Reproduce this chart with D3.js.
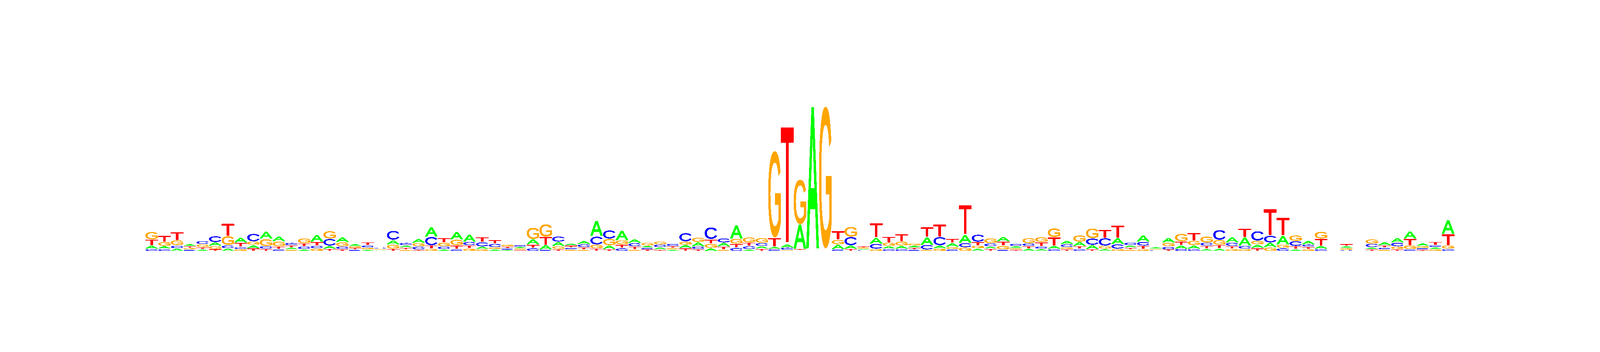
<!DOCTYPE html>
<html>
<head>
<meta charset="utf-8">
<script src="https://cdn.jsdelivr.net/npm/d3@7"></script>
<style>
html,body{margin:0;padding:0;background:#fff;overflow:hidden;width:100%;height:100%}
svg{display:block;width:100vw;height:100vh}
text{font-family:"Liberation Sans",Arial,sans-serif;font-weight:normal;font-size:100px;text-rendering:geometricPrecision}
</style>
</head>
<body>
<script>
const bases = ["A","C","G","T"];
const seriesA = [25,21,20,15,13,26,20,38,24,55,39,16,13,54,23,38,15,10,7,33,17,32,74,13,59,56,20,13,9,12,42,35,32,17,24,119,29,74,29,14,17,10,24,32,22,29,104,13,20,18,25,188,1091,5,35,26,8,47,20,23,15,59,23,29,62,19,17,35,14,18,16,23,26,32,32,16,47,17,50,12,36,26,26,16,19,41,65,26,35,68,13,29,23,0,14,0,14,24,35,57,21,14,108];
const seriesC = [16,16,21,10,24,47,23,16,59,21,13,18,20,20,53,20,10,17,9,71,18,23,65,20,13,26,32,26,11,13,22,10,41,14,23,62,65,22,26,13,20,17,65,20,92,32,25,23,23,15,18,5,5,5,13,65,7,38,16,16,10,36,65,13,32,56,23,10,17,20,17,16,23,16,50,59,35,20,29,7,20,17,16,24,77,26,23,74,53,22,38,18,16,0,9,0,27,15,29,13,11,15,16];
const seriesG = [59,32,39,12,23,24,68,15,26,54,38,10,38,19,59,32,14,14,8,32,10,26,16,29,44,19,13,14,14,11,89,98,23,10,10,29,50,33,10,23,23,11,25,35,32,10,38,41,38,665,8,345,5,1094,36,77,10,16,26,32,17,10,19,17,28,20,38,29,11,41,38,68,14,50,77,23,16,10,13,8,29,59,35,47,38,16,16,29,28,26,44,13,54,0,13,0,34,11,20,29,14,13,26];
const seriesT = [45,47,62,14,14,15,95,32,21,16,20,17,23,28,16,13,13,23,0,16,14,10,26,35,29,23,38,29,12,8,25,62,13,15,17,19,13,25,23,12,10,14,22,13,33,23,29,26,16,67,898,9,5,5,65,16,11,110,44,56,14,74,95,32,227,29,16,32,10,19,32,65,13,20,13,62,98,14,26,0,12,27,59,23,26,20,66,22,206,137,23,17,53,0,15,0,13,16,13,50,10,26,86];
const positions = d3.range(1, seriesA.length + 1);
const series = {A: seriesA, C: seriesC, G: seriesG, T: seriesT};

const color = d3.scaleOrdinal().domain(bases).range(["#00ff00","#0000ff","#ffa500","#ff0000"]);
const x = d3.scaleBand().domain(positions).range([436, 4363.6]).paddingInner(0).paddingOuter(0);
const y = d3.scaleLinear().domain([0, 1107]).range([641, 272]);

const inkInset = 5;    // part of each letter's box left blank above its glyph
const stackGap = 1;    // extra space between stacked letters
const glyphStroke = {A:3.2, C:1.6, G:1.6, T:1.6}; // thickens the regular weight, in font units
const widthShare = {A:.98, C:.965, G:.975, T:1};

const ctx = document.createElement("canvas").getContext("2d");
ctx.font = '100px "Liberation Sans"';
const metrics = {};
bases.forEach(b => { metrics[b] = ctx.measureText(b); });

const svg = d3.select("body").append("svg")
  .attr("viewBox", "0 0 4800 900")
  .attr("preserveAspectRatio", "none");
const f = svg.append("defs").append("filter").attr("id","hard").attr("filterUnits","userSpaceOnUse")
  .attr("x",430).attr("y",260).attr("width",3940).attr("height",390)
  .attr("color-interpolation-filters","sRGB");
f.append("feComponentTransfer").append("feFuncA").attr("type","discrete").attr("tableValues","0 1 1 1");

const stacks = positions.map((p,i) => {
  const order = bases.map(b => ({b, v: series[b][i]})).sort((m,n) => m.v - n.v);
  let cum = 0;
  return order.map(o => {
    const d = {pos:p, base:o.b, y0:cum, y1:cum + o.v};
    if (o.v > 0) cum += o.v + stackGap;
    return d;
  });
}).flat().filter(d => d.y1 - d.y0 > inkInset);

const g = svg.append("g").attr("filter","url(#hard)");
g.selectAll("text").data(stacks).join("text")
  .text(d => d.base)
  .attr("fill", d => color(d.base))
  .attr("stroke", d => color(d.base))
  .attr("stroke-width", d => glyphStroke[d.base])
  .attr("stroke-linejoin", "miter")
  .attr("transform", d => {
    const m = metrics[d.base];
    const pad = glyphStroke[d.base] / 2;
    const L = m.actualBoundingBoxLeft + pad, R = m.actualBoundingBoxRight + pad;
    const A = m.actualBoundingBoxAscent + pad, D = m.actualBoundingBoxDescent + pad;
    const w = x.bandwidth() * widthShare[d.base];
    const x0 = x(d.pos) + (x.bandwidth() - w) / 2;
    const bottom = y(d.y0);
    const top = y(d.y1 - inkInset);
    const sx = w / (L + R), sy = (bottom - top) / (A + D);
    return `translate(${x0 + L * sx},${bottom - D * sy}) scale(${sx},${sy})`;
  });
</script>
</body>
</html>
